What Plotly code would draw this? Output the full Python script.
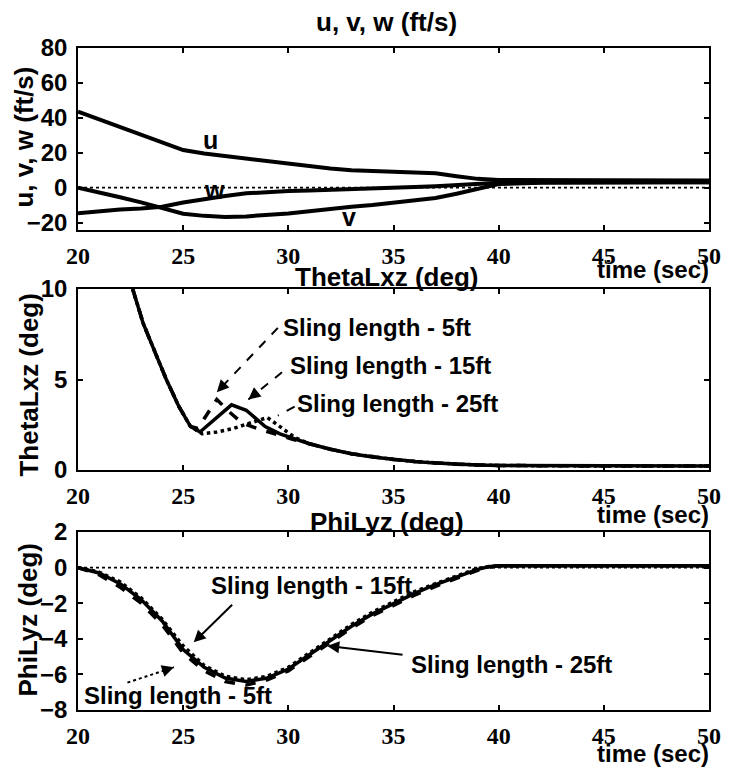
import plotly.graph_objects as go

# ---------------- data ----------------
# Panel 1: body velocities u, v, w (ft/s)
time_uvw = [20, 21, 22, 23, 24, 25, 26, 27, 28, 29, 30, 31, 32, 33, 34, 35,
            36, 37, 38, 39, 40, 42, 44, 46, 48, 50]
u_vel = [43.5, 39.0, 34.5, 30.0, 25.5, 21.5, 19.5, 18.0, 16.5, 15.0, 13.5, 12.2,
         11.0, 10.0, 9.5, 9.0, 8.6, 8.2, 6.5, 5.0, 4.3, 4.2, 4.2, 4.1, 4.1, 4.0]
v_vel = [0.0, -2.5, -5.5, -8.5, -12.0, -15.0, -16.2, -16.8, -16.5, -15.8, -14.8,
         -13.5, -12.0, -11.0, -10.0, -8.8, -7.5, -6.0, -3.5, -0.5, 2.0, 2.8,
         3.0, 3.0, 3.0, 3.0]
w_vel = [-14.7, -13.6, -12.5, -12.0, -11.0, -8.5, -6.5, -4.8, -3.3, -2.5, -2.0,
         -1.6, -1.3, -1.0, -0.6, -0.2, 0.3, 0.8, 1.5, 2.3, 2.8, 3.0, 3.0, 3.0,
         3.0, 3.0]
uvw_labels = ["u", "v", "w"]
uvw_label_x = [26.3, 32.9, 26.5]
uvw_label_y = [27.4, -16.9, -1.3]

# Panel 2: ThetaLxz (deg) for three sling lengths
theta_time_5ft = [22.6, 23.1, 23.7, 24.2, 24.8, 25.35, 25.7, 26.1, 26.6, 27.2,
                  27.8, 28.5, 29.3, 30.2, 31, 32, 33, 34, 35, 36, 37, 38, 39,
                  40, 45, 50]
theta_5ft = [10.0, 8.1, 6.4, 5.0, 3.5, 2.4, 2.3, 3.0, 3.9, 3.2, 2.6, 2.3, 2.0,
             1.7, 1.45, 1.15, 0.9, 0.72, 0.58, 0.47, 0.38, 0.32, 0.28, 0.25,
             0.22, 0.22]
theta_time_15ft = [22.6, 23.1, 23.7, 24.2, 24.8, 25.35, 25.8, 26.5, 27.3, 28.0,
                   28.9, 29.6, 30.3, 31, 32, 33, 34, 35, 36, 37, 38, 39, 40,
                   45, 50]
theta_15ft = [10.0, 8.1, 6.4, 5.0, 3.5, 2.4, 2.1, 2.8, 3.6, 3.3, 2.4, 2.0, 1.7,
              1.45, 1.15, 0.9, 0.72, 0.58, 0.47, 0.38, 0.32, 0.28, 0.25, 0.22,
              0.22]
theta_time_25ft = [22.6, 23.1, 23.7, 24.2, 24.8, 25.35, 25.9, 26.6, 27.4, 28.2,
                   29.0, 29.6, 30.3, 31, 32, 33, 34, 35, 36, 37, 38, 39, 40,
                   45, 50]
theta_25ft = [10.0, 8.1, 6.4, 5.0, 3.5, 2.4, 2.0, 2.1, 2.3, 2.6, 2.9, 2.4, 1.8,
              1.45, 1.15, 0.9, 0.72, 0.58, 0.47, 0.38, 0.32, 0.28, 0.25, 0.22,
              0.22]

# Panel 3: PhiLyz (deg) for three sling lengths
phi_time = [20, 21, 22, 23, 24, 25, 26, 27, 28, 29, 30, 31, 32, 33, 34, 35, 36,
            37, 38, 39, 39.5, 40, 45, 50]
phi_5ft = [0.0, -0.4, -1.1, -2.0, -3.2, -4.8, -5.8, -6.4, -6.6, -6.3, -5.8,
           -5.0, -4.2, -3.4, -2.7, -2.1, -1.55, -1.05, -0.6, -0.15, 0.0, 0.1,
           0.1, 0.1]
phi_15ft = [0.0, -0.3, -0.9, -1.8, -3.0, -4.6, -5.6, -6.2, -6.4, -6.2, -5.7,
            -4.9, -4.1, -3.3, -2.6, -2.0, -1.45, -0.95, -0.5, -0.1, 0.05, 0.1,
            0.1, 0.1]
phi_25ft = [0.0, -0.25, -0.8, -1.7, -2.9, -4.4, -5.5, -6.1, -6.3, -6.1, -5.6,
            -4.8, -4.0, -3.2, -2.5, -1.9, -1.35, -0.9, -0.45, -0.05, 0.05, 0.1,
            0.1, 0.1]

zero_x = [20, 50]
zero_y = [0, 0]

time_ticks = [20, 25, 30, 35, 40, 45, 50]
uvw_ticks = [-20, 0, 20, 40, 60, 80]
theta_ticks = [0, 5, 10]
phi_ticks = [-8, -6, -4, -2, 0, 2]

panel_titles = ["u, v, w (ft/s)", "ThetaLxz (deg)", "PhiLyz (deg)"]
y_titles = ["u, v, w (ft/s)", "ThetaLxz (deg)", "PhiLyz (deg)"]
time_label = "time (sec)"

# ---------------- layout helpers ----------------
W, H = 733, 767
ML, MR, MT, MB = 78, 17, 48, 57
PW, PH = W - ML - MR, H - MT - MB


def px(xp):
    return (xp - ML) / PW


def py(yp):
    return (H - MB - yp) / PH


SANS = "Liberation Sans, Arial, sans-serif"
SERIF = "Liberation Serif, Times New Roman, serif"

fig = go.Figure()

line_thick = dict(color="black", width=4)

# panel 1 traces
for yy in (u_vel, v_vel, w_vel):
    fig.add_trace(go.Scatter(x=time_uvw, y=yy, mode="lines", line=line_thick,
                             xaxis="x", yaxis="y", showlegend=False))
fig.add_trace(go.Scatter(x=zero_x, y=zero_y, mode="lines",
                         line=dict(color="black", width=1.6, dash="dot"),
                         xaxis="x", yaxis="y", showlegend=False))

# panel 2 traces
fig.add_trace(go.Scatter(x=theta_time_25ft, y=theta_25ft, mode="lines",
                         line=dict(color="black", width=3.5, dash="dot"),
                         xaxis="x2", yaxis="y2", showlegend=False))
fig.add_trace(go.Scatter(x=theta_time_5ft, y=theta_5ft, mode="lines",
                         line=dict(color="black", width=3.5, dash="dash"),
                         xaxis="x2", yaxis="y2", showlegend=False))
fig.add_trace(go.Scatter(x=theta_time_15ft, y=theta_15ft, mode="lines",
                         line=dict(color="black", width=3.5),
                         xaxis="x2", yaxis="y2", showlegend=False))

# panel 3 traces
fig.add_trace(go.Scatter(x=zero_x, y=zero_y, mode="lines",
                         line=dict(color="black", width=1.6, dash="dot"),
                         xaxis="x3", yaxis="y3", showlegend=False))
fig.add_trace(go.Scatter(x=phi_time, y=phi_25ft, mode="lines",
                         line=dict(color="black", width=3.5, dash="dot"),
                         xaxis="x3", yaxis="y3", showlegend=False))
fig.add_trace(go.Scatter(x=phi_time, y=phi_5ft, mode="lines",
                         line=dict(color="black", width=3.5, dash="dash"),
                         xaxis="x3", yaxis="y3", showlegend=False))
fig.add_trace(go.Scatter(x=phi_time, y=phi_15ft, mode="lines",
                         line=dict(color="black", width=3.5),
                         xaxis="x3", yaxis="y3", showlegend=False))


def xaxis_cfg(anchor):
    return dict(anchor=anchor, domain=[0, 1], range=[20, 50],
                tickvals=time_ticks, ticks="inside", ticklen=5, tickwidth=1.5,
                tickcolor="black", showline=True, linecolor="black",
                linewidth=1.5, mirror="ticks", showgrid=False, zeroline=False,
                ticklabelstandoff=3,
                tickfont=dict(family=SERIF, size=24, color="black",
                              weight="bold"))


def yaxis_cfg(anchor, domain, rng, ticks):
    return dict(anchor=anchor, domain=domain, range=rng, tickvals=ticks,
                ticks="inside", ticklen=5, tickwidth=1.5, tickcolor="black",
                showline=True, linecolor="black", linewidth=1.5,
                mirror="ticks", showgrid=False, zeroline=False,
                ticklabelstandoff=4,
                tickfont=dict(family=SANS, size=24, color="black",
                              weight="bold"))


annotations = []

# panel titles
for title, ypix in zip(panel_titles, [22, 277, 522]):
    annotations.append(dict(text=title, xref="paper", yref="paper",
                            x=px(390), y=py(ypix), xanchor="center",
                            yanchor="middle", showarrow=False,
                            font=dict(family=SANS, size=26, color="black",
                                      weight="bold")))

# y axis titles
for title, (xpix, ypix) in zip(y_titles, [(23, 137), (28, 385), (27, 620)]):
    annotations.append(dict(text=title, xref="paper", yref="paper",
                            x=px(xpix), y=py(ypix), xanchor="center",
                            yanchor="middle", textangle=-90, showarrow=False,
                            font=dict(family=SANS, size=26, color="black",
                                      weight="bold")))

# time labels under each panel
for ypix in [269, 514, 753]:
    annotations.append(dict(text=time_label, xref="paper", yref="paper",
                            x=px(718), y=py(ypix), xanchor="right",
                            yanchor="middle", showarrow=False,
                            font=dict(family=SANS, size=24, color="black",
                                      weight="bold")))

# u, v, w curve labels
for lab, lx, ly in zip(uvw_labels, uvw_label_x, uvw_label_y):
    annotations.append(dict(text=lab, xref="x", yref="y", x=lx, y=ly,
                            showarrow=False,
                            font=dict(family=SANS, size=25, color="black",
                                      weight="bold")))

label_font = dict(family=SANS, size=24, color="black", weight="bold")

# panel 2 sling-length callouts
theta_notes = [("Sling length - 5ft", 29.64, 7.85, (29.5, 7.85), (26.6, 4.3)),
               ("Sling length - 15ft", 29.97, 5.8, (29.7, 5.4), (28.1, 3.9)),
               ("Sling length - 25ft", 30.34, 3.7, (30.3, 3.5), (29.5, 3.0))]
shapes = []
for text, tx, ty, tail, head in theta_notes:
    annotations.append(dict(text=text, xref="x2", yref="y2", x=tx, y=ty,
                            xanchor="left", yanchor="middle",
                            showarrow=False, font=label_font))
    shapes.append(dict(type="line", xref="x2", yref="y2", x0=tail[0],
                       y0=tail[1], x1=head[0], y1=head[1],
                       line=dict(color="black", width=2, dash="dash")))
    annotations.append(dict(text="", xref="x2", yref="y2", x=head[0],
                            y=head[1], axref="x2", ayref="y2",
                            ax=head[0] + (tail[0] - head[0]) * 0.15,
                            ay=head[1] + (tail[1] - head[1]) * 0.15,
                            showarrow=True, arrowhead=2, arrowsize=1.2,
                            arrowwidth=2, arrowcolor="black"))

# panel 3 sling-length callouts
annotations.append(dict(text="Sling length - 15ft", xref="x3", yref="y3",
                        x=31.1, y=-1.0, xanchor="center", yanchor="middle",
                        showarrow=False, font=label_font))
annotations.append(dict(text="", xref="x3", yref="y3", x=25.5, y=-4.2,
                        axref="x3", ayref="y3", ax=27.4, ay=-2.0,
                        showarrow=True, arrowhead=2, arrowsize=1.2,
                        arrowwidth=2, arrowcolor="black"))
annotations.append(dict(text="Sling length - 25ft", xref="x3", yref="y3",
                        x=35.75, y=-5.45, xanchor="left", yanchor="middle",
                        showarrow=False, font=label_font))
annotations.append(dict(text="", xref="x3", yref="y3", x=31.85, y=-4.4,
                        axref="x3", ayref="y3", ax=35.5, ay=-4.9,
                        showarrow=True, arrowhead=2, arrowsize=1.2,
                        arrowwidth=2, arrowcolor="black"))
annotations.append(dict(text="Sling length - 5ft", xref="x3", yref="y3",
                        x=20.2, y=-7.2, xanchor="left", yanchor="middle",
                        showarrow=False, font=label_font))
shapes.append(dict(type="line", xref="x3", yref="y3", x0=22.35, y0=-6.46,
                   x1=24.56, y1=-5.6,
                   line=dict(color="black", width=2, dash="dot")))
annotations.append(dict(text="", xref="x3", yref="y3", x=24.56, y=-5.6,
                        axref="x3", ayref="y3", ax=24.2, ay=-5.74,
                        showarrow=True, arrowhead=2, arrowsize=1.2,
                        arrowwidth=2, arrowcolor="black"))

fig.update_layout(
    width=W, height=H,
    margin=dict(l=ML, r=MR, t=MT, b=MB),
    paper_bgcolor="white", plot_bgcolor="white",
    showlegend=False,
    xaxis=xaxis_cfg("y"),
    yaxis=yaxis_cfg("x", [py(230), 1.0], [-24.3, 80], uvw_ticks),
    xaxis2=xaxis_cfg("y2"),
    yaxis2=yaxis_cfg("x2", [py(470), py(289)], [0, 10], theta_ticks),
    xaxis3=xaxis_cfg("y3"),
    yaxis3=yaxis_cfg("x3", [0.0, py(532)], [-8, 2], phi_ticks),
    annotations=annotations,
    shapes=shapes,
)

fig.write_html("out.html")
